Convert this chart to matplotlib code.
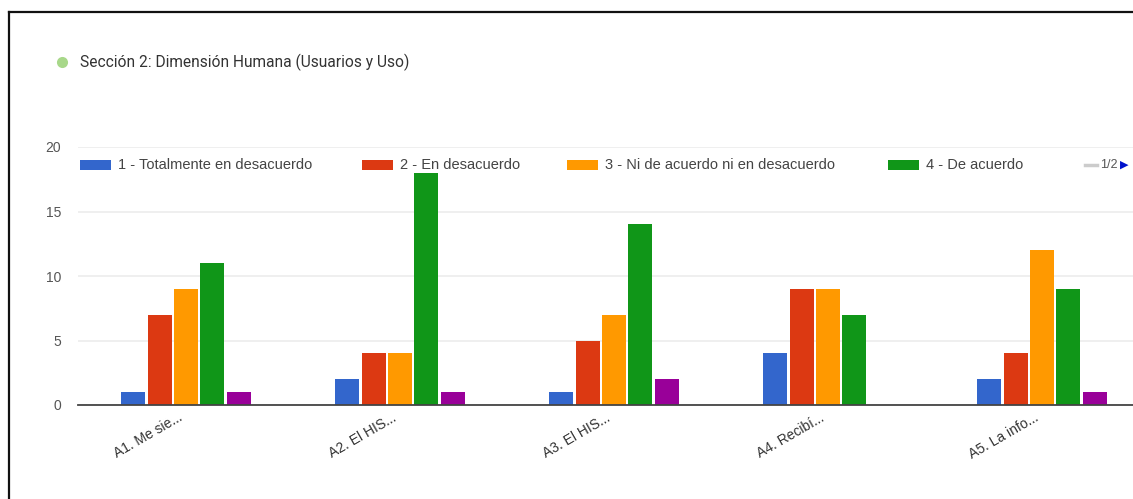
import matplotlib
matplotlib.use("Agg")
import matplotlib.pyplot as plt
import matplotlib.transforms as mtransforms
import numpy as np
from matplotlib.lines import Line2D
from matplotlib.patches import Rectangle

# ---- data ----
categories = ["A1. Me sie...", "A2. El HIS...", "A3. El HIS...", "A4. Recibí...", "A5. La info..."]
series_names = [
    "1 - Totalmente en desacuerdo",
    "2 - En desacuerdo",
    "3 - Ni de acuerdo ni en desacuerdo",
    "4 - De acuerdo",
    "5 - Totalmente de acuerdo",
]
totally_disagree = [1, 2, 1, 4, 2]
disagree = [7, 4, 5, 9, 4]
neutral = [9, 4, 7, 9, 12]
agree = [11, 18, 14, 7, 9]
totally_agree = [1, 1, 2, 0, 1]
series_values = [totally_disagree, disagree, neutral, agree, totally_agree]
colors = ["#3366cc", "#dc3912", "#ff9900", "#109618", "#990099"]
y_ticks = [0, 5, 10, 15, 20]
title = "Sección 2: Dimensión Humana (Usuarios y Uso)"

plt.rcParams["font.family"] = ["Liberation Sans", "DejaVu Sans"]

W, H = 1133, 499
fig = plt.figure(figsize=(W / 100, H / 100), dpi=100)
fig.patch.set_facecolor("white")

ax = fig.add_axes([78 / W, (H - 405) / H, 1 - 78 / W, 258 / H])
ax.set_facecolor("white")

x = np.arange(len(categories))
pitch = 0.123
width = 0.112
n = len(series_values)
for i, (vals, col) in enumerate(zip(series_values, colors)):
    ax.bar(x + (i - (n - 1) / 2) * pitch, vals, width=width, color=col,
           label=series_names[i], zorder=3)

ax.set_xlim(-0.505, 4.425)
ax.set_ylim(0, 20)
ax.set_yticks(y_ticks)
ax.set_yticklabels([str(t) for t in y_ticks])
ax.yaxis.grid(True, color="#ececec", linewidth=1.2, zorder=0)
ax.set_axisbelow(True)
for s in ["top", "right", "left"]:
    ax.spines[s].set_visible(False)
ax.spines["bottom"].set_color("#444444")
ax.spines["bottom"].set_linewidth(1.3)
ax.spines["bottom"].set_zorder(4)
ax.tick_params(axis="y", length=0, pad=12, labelsize=10, labelcolor="#555555")
ax.tick_params(axis="x", length=0, pad=4, labelsize=10, labelcolor="#333333")
ax.set_xticks(x)
ax.set_xticklabels(categories, rotation=30, ha="right", va="top", rotation_mode="anchor")
shift = mtransforms.ScaledTranslation(-6 / 72, 0, fig.dpi_scale_trans)
for lbl in ax.get_xticklabels():
    lbl.set_transform(lbl.get_transform() + shift)

# title with icon
fig.add_artist(Line2D([62 / W], [(H - 62) / H], marker="o", markersize=8,
                      markerfacecolor="#a8d88a", markeredgecolor="none",
                      transform=fig.transFigure))
fig.text(80 / W, (H - 62) / H, title, fontsize=11.2, color="#333333",
         family=["Roboto", "DejaVu Sans"], ha="left", va="center")

# legend (first page of a paginated legend)
legend_y = (H - 165) / H
legend_x = [80, 362, 567, 888]
for lx, name, col in zip(legend_x, series_names[:4], colors[:4]):
    fig.patches.append(Rectangle((lx / W, legend_y - 5 / H), 31 / W, 10 / H,
                                 transform=fig.transFigure, facecolor=col, edgecolor="none"))
    fig.text((lx + 38) / W, legend_y, name, fontsize=10.5, color="#444444",
             ha="left", va="center")
fig.add_artist(Line2D([1085 / W, 1097 / W], [legend_y, legend_y], color="#cccccc",
                      linewidth=2.5, transform=fig.transFigure))
fig.text(1100 / W, legend_y, "1/2", fontsize=9, color="#555555", ha="left", va="center")
fig.text(1120 / W, legend_y, "▶", fontsize=8, color="#0011cc", ha="left", va="center",
         family=["DejaVu Sans"])

# frame lines along the top and left edges
fig.add_artist(Line2D([9 / W, 1], [(H - 12) / H, (H - 12) / H], color="#111111",
                      linewidth=1.6, transform=fig.transFigure))
fig.add_artist(Line2D([9 / W, 9 / W], [0, (H - 12) / H], color="#111111",
                      linewidth=1.6, transform=fig.transFigure))

fig.savefig("out.png", dpi=100, facecolor="white")
